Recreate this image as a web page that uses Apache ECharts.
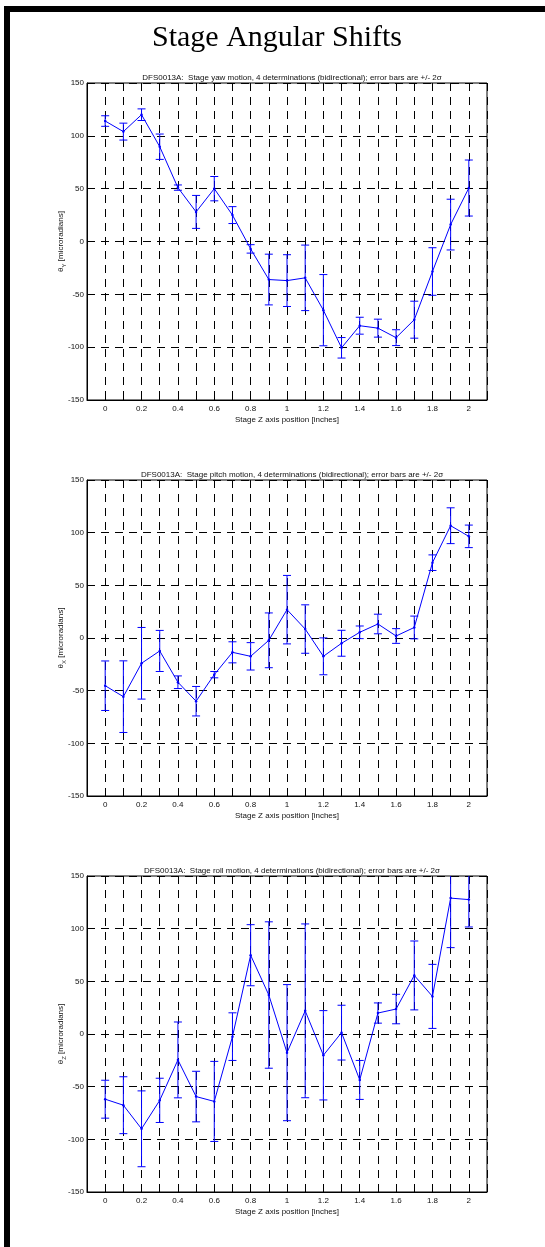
<!DOCTYPE html>
<html>
<head>
<meta charset="utf-8">
<script src="https://cdn.jsdelivr.net/npm/echarts@6/dist/echarts.min.js"></script>
<style>
html,body{margin:0;padding:0;background:#fff;}
#chart{width:545px;height:1247px;}
</style>
</head>
<body>
<div id="chart"></div>
<script>
// Stage Z axis positions [inches]
const positions = [0, 0.1, 0.2, 0.3, 0.4, 0.5, 0.6, 0.7, 0.8, 0.9, 1.0, 1.1, 1.2, 1.3, 1.4, 1.5, 1.6, 1.7, 1.8, 1.9, 2.0];

// Yaw (theta Y) [microradians] and 2-sigma error
const yawValues = [114, 104, 120, 89.7, 51, 28, 50, 25, -7, -36, -37, -34.4, -65, -100.6, -79.7, -82, -91, -74, -28.4, 16, 50.6];
const yawErr    = [5, 8, 5.5, 12, 2.5, 15.6, 11.5, 8, 4, 24, 24.5, 31, 33.7, 9.7, 8, 8.5, 7.5, 17.5, 22.5, 24, 26.5];

// Pitch (theta X)
const pitchValues = [-45.3, -55.7, -24, -12.3, -42, -60, -34.8, -13.6, -17.4, -2.2, 26.9, 8.5, -17.4, -5, 5.4, 13.3, 1.9, 10, 71.5, 106.6, 96.5];
const pitchErr    = [23.5, 34, 34, 19.5, 6, 14, 3, 10, 13, 26, 32.5, 23, 17.5, 12.3, 6, 9.3, 7, 10.8, 7.4, 17, 10.7];

// Roll (theta Z)
const rollValues = [-61.9, -67.6, -90, -63, -24.6, -59.4, -64, -2.5, 74.8, 37, -17.7, 22, -20.2, 1.3, -43.6, 19.9, 23.7, 55.6, 35.7, 129, 127.6];
const rollErr    = [18, 27, 36, 21, 36, 24, 38, 22.6, 29, 69.5, 64.6, 82.5, 42.4, 26, 18.5, 9.6, 14, 32.7, 30.4, 47, 26];

const mainTitle = 'Stage Angular Shifts';
const subTitles = [
  'DFS0013A:  Stage yaw motion, 4 determinations (bidirectional); error bars are +/- 2\u03c3',
  'DFS0013A:  Stage pitch motion, 4 determinations (bidirectional); error bars are +/- 2\u03c3',
  'DFS0013A:  Stage roll motion, 4 determinations (bidirectional); error bars are +/- 2\u03c3'
];
const ySubs = ['Y', 'X', 'Z'];
const xName = 'Stage Z axis position [inches]';
const yTicks = { min: -150, max: 150, interval: 50 };
const xTicks = { min: -0.1, max: 2.1, interval: 0.1 };

const panels = [
  { values: yawValues, err: yawErr, top: 83, height: 317 },
  { values: pitchValues, err: pitchErr, top: 480, height: 316 },
  { values: rollValues, err: rollErr, top: 876, height: 316 }
];

const FONT = 'Liberation Sans, Arial, sans-serif';
const BLUE = '#0000ff';
const gridLeft = 87, gridWidth = 400;

function renderErr(params, api) {
  const x = api.value(0);
  const top = api.coord([x, api.value(2)]);
  const bot = api.coord([x, api.value(1)]);
  const w = 4;
  const st = { stroke: BLUE, lineWidth: 1 };
  return {
    type: 'group',
    children: [
      { type: 'line', shape: { x1: top[0], y1: top[1], x2: bot[0], y2: bot[1] }, style: st },
      { type: 'line', shape: { x1: top[0] - w, y1: top[1], x2: top[0] + w, y2: top[1] }, style: st },
      { type: 'line', shape: { x1: bot[0] - w, y1: bot[1], x2: bot[0] + w, y2: bot[1] }, style: st }
    ]
  };
}

const grids = [], xAxes = [], yAxes = [], series = [], titles = [];
panels.forEach((p, i) => {
  grids.push({ left: gridLeft, top: p.top, width: gridWidth, height: p.height, show: true,
    borderColor: '#000', borderWidth: 1, backgroundColor: 'transparent', containLabel: false });
  titles.push({ text: subTitles[i], left: gridLeft + gridWidth / 2, top: p.top - 14, textAlign: 'center',
    textStyle: { fontFamily: FONT, fontSize: 8, fontWeight: 'normal', color: '#111' } });
  xAxes.push({
    type: 'value', gridIndex: i, min: xTicks.min, max: xTicks.max, interval: xTicks.interval,
    name: xName, nameLocation: 'middle', nameGap: 16, nameMoveOverlap: false,
    nameTextStyle: { fontFamily: FONT, fontSize: 8, color: '#111' },
    axisLine: { show: true, onZero: false, lineStyle: { color: '#000', width: 1 } },
    axisTick: { show: true, inside: true, length: 3, lineStyle: { color: '#000' } },
    axisLabel: {
      fontFamily: FONT, fontSize: 8, color: '#111', margin: 5, showMinLabel: true, showMaxLabel: true,
      formatter: function (v) {
        const k = Math.round(v * 10);
        if (k < 0 || k > 20 || k % 2 !== 0) return '';
        return String(parseFloat((k / 10).toFixed(1)));
      }
    },
    splitLine: { show: true, lineStyle: { color: '#000', width: 1, type: [8, 6] } }
  });
  yAxes.push({
    type: 'value', gridIndex: i, min: yTicks.min, max: yTicks.max, interval: yTicks.interval,
    name: '{a|\u03b8}{s|' + ySubs[i] + '}{a| [microradians]}', nameLocation: 'middle', nameGap: 20, nameRotate: 90,
    nameMoveOverlap: false,
    nameTextStyle: {
      fontFamily: FONT, fontSize: 8, color: '#111',
      rich: {
        a: { fontFamily: FONT, fontSize: 8, color: '#111', lineHeight: 12 },
        s: { fontFamily: FONT, fontSize: 6, color: '#111', lineHeight: 6, verticalAlign: 'bottom' }
      }
    },
    axisLine: { show: true, onZero: false, lineStyle: { color: '#000', width: 1 } },
    axisTick: { show: true, inside: true, length: 3, lineStyle: { color: '#000' } },
    axisLabel: { fontFamily: FONT, fontSize: 8, color: '#111', margin: 3, showMinLabel: true, showMaxLabel: true },
    splitLine: { show: true, lineStyle: { color: '#000', width: 1, type: [8, 6] } }
  });
  const lineData = positions.map((x, j) => [x, p.values[j]]);
  const errData = positions.map((x, j) => [x, p.values[j] - p.err[j], p.values[j] + p.err[j]]);
  series.push({
    type: 'custom', xAxisIndex: i, yAxisIndex: i, renderItem: renderErr, clip: true,
    data: errData, encode: { x: 0, y: [1, 2] }, silent: true, z: 3
  });
  series.push({
    type: 'line', xAxisIndex: i, yAxisIndex: i, data: lineData, symbol: 'circle', symbolSize: 2.5,
    itemStyle: { color: BLUE }, lineStyle: { color: BLUE, width: 1 }, clip: true, silent: true, z: 4,
    animation: false
  });
});

const chart = echarts.init(document.getElementById('chart'), null, { renderer: 'canvas' });
chart.setOption({
  animation: false,
  backgroundColor: '#fff',
  title: titles,
  grid: grids,
  xAxis: xAxes,
  yAxis: yAxes,
  series: series,
  graphic: [
    { type: 'rect', shape: { x: 4, y: 6, width: 541, height: 6 }, style: { fill: '#000' }, silent: true },
    { type: 'rect', shape: { x: 4, y: 6, width: 6, height: 1241 }, style: { fill: '#000' }, silent: true },
    { type: 'text', x: 277, y: 38, style: { text: mainTitle, fontFamily: 'Liberation Serif, Times New Roman, serif',
      fontSize: 30, fill: '#000', textAlign: 'center', textVerticalAlign: 'middle' }, silent: true }
  ]
});
</script>
</body>
</html>
